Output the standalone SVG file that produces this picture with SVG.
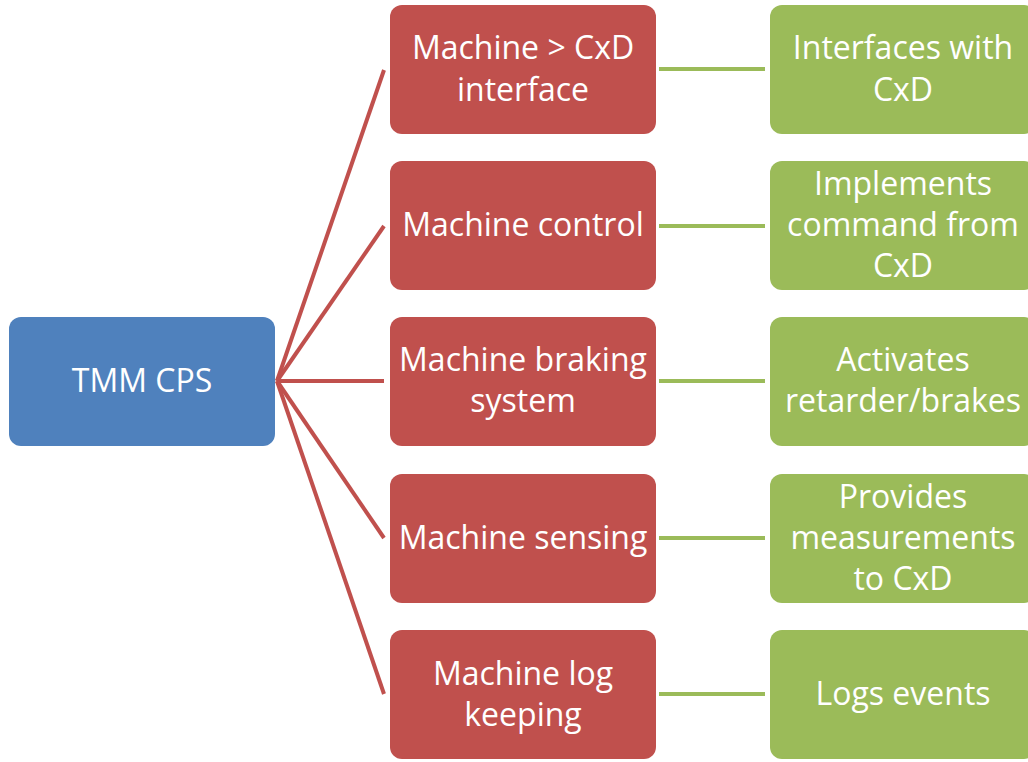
<svg xmlns="http://www.w3.org/2000/svg" width="1028" height="762" viewBox="0 0 1028 762">
<style>
.b{fill:#4F81BD}.r{fill:#C0504D}.g{fill:#9BBB59}
text{font-family:"Open Sans","Noto Sans",sans-serif;font-size:32px;fill:#fff;text-anchor:middle;dominant-baseline:central}
.rl{stroke:#C0504D;stroke-width:4;fill:none}.gl{stroke:#9BBB59;stroke-width:4;fill:none}
</style>
<g id="connectors">
<line class="rl" x1="277" y1="381" x2="384" y2="70"/>
<line class="rl" x1="277" y1="381" x2="384" y2="226"/>
<line class="rl" x1="277" y1="381" x2="384" y2="381"/>
<line class="rl" x1="277" y1="381" x2="384" y2="538"/>
<line class="rl" x1="277" y1="381" x2="384" y2="694"/>
<line class="gl" x1="659" y1="69" x2="765" y2="69"/>
<line class="gl" x1="659" y1="226" x2="765" y2="226"/>
<line class="gl" x1="659" y1="381" x2="765" y2="381"/>
<line class="gl" x1="659" y1="538" x2="765" y2="538"/>
<line class="gl" x1="659" y1="694" x2="765" y2="694"/>
</g>
<g id="root"><rect class="b" x="9" y="317" width="266" height="129" rx="12"/><text x="142" y="379">TMM CPS</text></g>
<g id="r1"><rect class="r" x="390" y="5" width="266" height="129" rx="12"/><text x="523" y="46">Machine &gt; CxD</text><text x="523" y="88">interface</text></g>
<g id="r2"><rect class="r" x="390" y="161" width="266" height="129" rx="12"/><text x="523" y="223">Machine control</text></g>
<g id="r3"><rect class="r" x="390" y="317" width="266" height="129" rx="12"/><text x="523" y="358">Machine braking</text><text x="523" y="399">system</text></g>
<g id="r4"><rect class="r" x="390" y="474" width="266" height="129" rx="12"/><text x="523" y="536">Machine sensing</text></g>
<g id="r5"><rect class="r" x="390" y="630" width="266" height="129" rx="12"/><text x="523" y="672">Machine log</text><text x="523" y="713">keeping</text></g>
<g id="g1"><rect class="g" x="770" y="5" width="266" height="129" rx="12"/><text x="903" y="46">Interfaces with</text><text x="903" y="88">CxD</text></g>
<g id="g2"><rect class="g" x="770" y="161" width="266" height="129" rx="12"/><text x="903" y="182">Implements</text><text x="903" y="223">command from</text><text x="903" y="264">CxD</text></g>
<g id="g3"><rect class="g" x="770" y="317" width="266" height="129" rx="12"/><text x="903" y="358">Activates</text><text x="903" y="399">retarder/brakes</text></g>
<g id="g4"><rect class="g" x="770" y="474" width="266" height="129" rx="12"/><text x="903" y="495">Provides</text><text x="903" y="536">measurements</text><text x="903" y="577">to CxD</text></g>
<g id="g5"><rect class="g" x="770" y="630" width="266" height="129" rx="12"/><text x="903" y="692">Logs events</text></g>
</svg>
